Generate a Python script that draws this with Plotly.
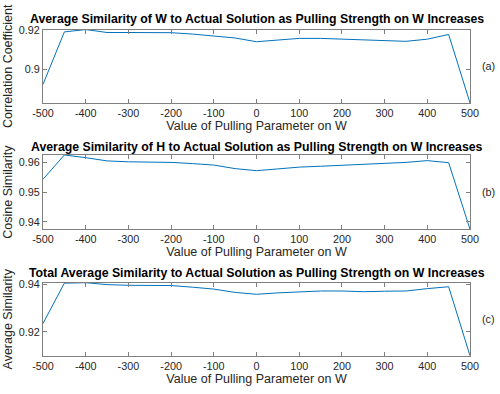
import plotly.graph_objects as go

# pulling parameter on W
pull = [-500, -450, -400, -350, -300, -250, -200, -150, -100, -50, 0,
        50, 100, 150, 200, 250, 300, 350, 400, 450, 500]

# (a) correlation of W
sim_w = [0.8924, 0.9191, 0.9203, 0.9188, 0.9188, 0.9188, 0.9187, 0.9180, 0.9171, 0.9160, 0.9141,
         0.9150, 0.9158, 0.9158, 0.9155, 0.9150, 0.9148, 0.9143, 0.9154, 0.9178, 0.8829]
# (b) cosine similarity of H
sim_h = [0.9544, 0.9626, 0.9617, 0.9606, 0.9603, 0.9603, 0.9601, 0.9597, 0.9592, 0.9580, 0.9573,
         0.9579, 0.9585, 0.9588, 0.9591, 0.9593, 0.9596, 0.9601, 0.9607, 0.9600, 0.9375]
# (c) total average
sim_tot = [0.9235, 0.9405, 0.9407, 0.9399, 0.9396, 0.9397, 0.9395, 0.9388, 0.9380, 0.9366, 0.9358,
           0.9364, 0.9369, 0.9372, 0.9372, 0.9369, 0.9371, 0.9372, 0.9382, 0.9390, 0.9099]

# x ticks, written with a plain hyphen like the original
xtick_vals = [-500, -400, -300, -200, -100, 0, 100, 200, 300, 400, 500]
xtick_text = ["-500", "-400", "-300", "-200", "-100", "0", "100", "200", "300", "400", "500"]

titles = ["Average Similarity of W to Actual Solution as Pulling Strength on W Increases",
          "Average Similarity of H to Actual Solution as Pulling Strength on W Increases",
          "Total Average Similarity to Actual Solution as Pulling Strength on W Increases"]
ylabels = ["Correlation Coefficient", "Cosine Similarity", "Average Similarity"]
tags = ["(a)", "(b)", "(c)"]
yranges = [[0.8829, 0.9203], [0.9375, 0.9626], [0.9099, 0.9407]]
yticks = [[0.9, 0.92], [0.94, 0.95, 0.96], [0.92, 0.94]]

# paper coordinates of each panel (bottom, top)
doms = [[0.7386, 0.925], [0.418, 0.6066], [0.0972, 0.2825]]
title_y = [0.9525, 0.626, 0.308]

FONT = "Liberation Sans, Arial, sans-serif"
AX = "#262626"

fig = go.Figure()
series = [sim_w, sim_h, sim_tot]
for i in range(3):
    n = "" if i == 0 else str(i + 1)
    fig.add_trace(go.Scatter(x=pull, y=series[i], mode="lines",
                             line=dict(color="#0072BD", width=1),
                             xaxis="x" + n, yaxis="y" + n, showlegend=False))
    fig.update_layout(**{
        "xaxis" + n: dict(domain=[0.086, 0.94], range=[-500, 500], anchor="y" + n,
                          tickvals=xtick_vals, ticktext=xtick_text, ticks="inside", ticklen=4,
                          mirror="ticks", showline=True, linecolor="#7f7f7f", linewidth=1,
                          showgrid=False, zeroline=False, tickcolor="#7f7f7f",
                          automargin=False, tickfont=dict(size=10.8, color=AX),
                          title=dict(text="Value of Pulling Parameter on W", standoff=2,
                                     font=dict(size=12.5, color=AX))),
        "yaxis" + n: dict(domain=doms[i], range=yranges[i], anchor="x" + n,
                          tickvals=yticks[i], ticks="inside", ticklen=4,
                          mirror="ticks", showline=True, linecolor="#7f7f7f", linewidth=1,
                          showgrid=False, zeroline=False, tickcolor="#7f7f7f",
                          automargin=False, tickfont=dict(size=10.8, color=AX),
                          title=dict(text=ylabels[i], standoff=3,
                                     font=dict(size=12.5, color=AX))),
    })
    fig.add_annotation(text="<b>" + titles[i] + "</b>", x=0.513, y=title_y[i],
                       xref="paper", yref="paper", xanchor="center", yanchor="middle",
                       showarrow=False, font=dict(size=12.3, color="black"))
    fig.add_annotation(text=tags[i], x=0.976, y=sum(doms[i]) / 2,
                       xref="paper", yref="paper", xanchor="center", yanchor="middle",
                       showarrow=False, font=dict(size=10.8, color=AX))

fig.update_layout(width=500, height=394, margin=dict(l=0, r=0, t=0, b=0),
                  paper_bgcolor="white", plot_bgcolor="white",
                  font=dict(family=FONT))

# drop the default page margin so the figure sits at the window corner
fig.write_html("out.html", config={"displayModeBar": False},
               post_script="document.body.style.margin='0';")
